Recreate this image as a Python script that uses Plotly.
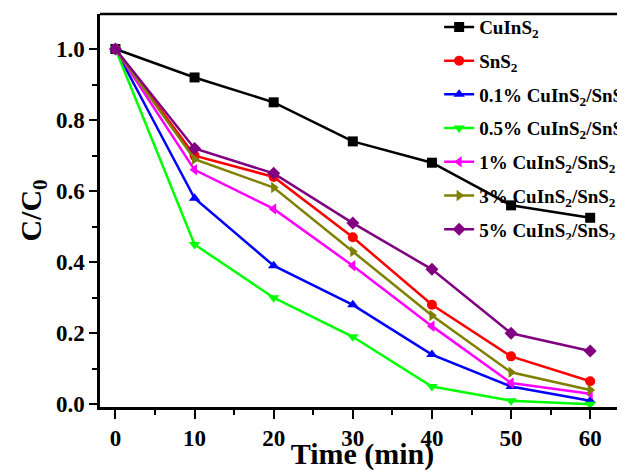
import plotly.graph_objects as go

time_min = [0, 10, 20, 30, 40, 50, 60]

names = [
    "CuInS<sub>2</sub>",
    "SnS<sub>2</sub>",
    "0.1% CuInS<sub>2</sub>/SnS<sub>2</sub>",
    "0.5% CuInS<sub>2</sub>/SnS<sub>2</sub>",
    "1% CuInS<sub>2</sub>/SnS<sub>2</sub>",
    "3% CuInS<sub>2</sub>/SnS<sub>2</sub>",
    "5% CuInS<sub>2</sub>/SnS<sub>2</sub>",
]
cuins2 = [1.0, 0.92, 0.85, 0.74, 0.68, 0.56, 0.525]
sns2 = [1.0, 0.70, 0.64, 0.47, 0.28, 0.135, 0.065]
p01 = [1.0, 0.58, 0.39, 0.28, 0.14, 0.05, 0.01]
p05 = [1.0, 0.45, 0.30, 0.19, 0.05, 0.01, 0.0]
p1 = [1.0, 0.66, 0.55, 0.39, 0.22, 0.06, 0.03]
p3 = [1.0, 0.69, 0.61, 0.43, 0.25, 0.09, 0.04]
p5 = [1.0, 0.72, 0.65, 0.51, 0.38, 0.20, 0.15]
series = [cuins2, sns2, p01, p05, p1, p3, p5]

colors = ["#000000", "#FF0000", "#0000FF", "#00FF00", "#FF00FF", "#808000", "#800080"]
symbols = ["square", "circle", "triangle-up", "triangle-down", "triangle-left", "triangle-right", "diamond"]

font_family = "Liberation Serif"

fig = go.Figure()
for i, (nm, vals) in enumerate(zip(names, series)):
    fig.add_trace(go.Scatter(
        x=time_min, y=vals, name=nm, mode="lines+markers",
        line=dict(color=colors[i], width=2.5),
        marker=dict(symbol=symbols[i], size=10, color=colors[i]),
        legendgroup=f"g{i}",
    ))

# page body has an 8px default margin; figure is sized to fill the rest of the window
fig.update_layout(
    width=617, height=463,
    margin=dict(l=91.5, r=0, t=6, b=64.3, autoexpand=False),
    plot_bgcolor="white", paper_bgcolor="white",
    font=dict(family=font_family, color="black"),
    showlegend=True,
    legend=dict(
        x=0.646, y=1.015, xanchor="left", yanchor="top",
        bgcolor="rgba(0,0,0,0)", borderwidth=0,
        font=dict(family=font_family, size=19, color="black", weight="bold"),
        tracegroupgap=6,
    ),
    xaxis=dict(
        range=[-1.95, 64.4], showgrid=False, zeroline=False,
        showline=True, linecolor="black", linewidth=2.5,
        ticks="outside", ticklen=9, tickwidth=2, tickcolor="black",
        tickvals=[0, 10, 20, 30, 40, 50, 60],
        ticktext=["0", "10", "20", "30", "40", "50", "60"],
        tickfont=dict(family=font_family, size=23, color="black", weight="bold"),
        minor=dict(ticks="outside", ticklen=5, tickwidth=2, tickcolor="black", dtick=5, tick0=0),
        title=dict(text="Time (min)", standoff=0,
                   font=dict(family=font_family, size=30, color="black", weight="bold")),
    ),
    yaxis=dict(
        range=[-0.0076, 1.0986], showgrid=False, zeroline=False,
        showline=True, linecolor="black", linewidth=2.5,
        ticks="outside", ticklen=8, tickwidth=2, tickcolor="black",
        tickvals=[0.0, 0.2, 0.4, 0.6, 0.8, 1.0],
        ticktext=["0.0", "0.2", "0.4", "0.6", "0.8", "1.0"],
        tickfont=dict(family=font_family, size=23, color="black", weight="bold"),
        minor=dict(ticks="outside", ticklen=5, tickwidth=2, tickcolor="black", dtick=0.1, tick0=0),
        title=dict(text="C/C<sub>0</sub>", standoff=6,
                   font=dict(family=font_family, size=30, color="black", weight="bold")),
    ),
    shapes=[dict(type="line", xref="paper", yref="paper", x0=0, x1=1, y0=1, y1=1,
                 line=dict(color="black", width=2.5))],
)

fig.write_html("out.html")
